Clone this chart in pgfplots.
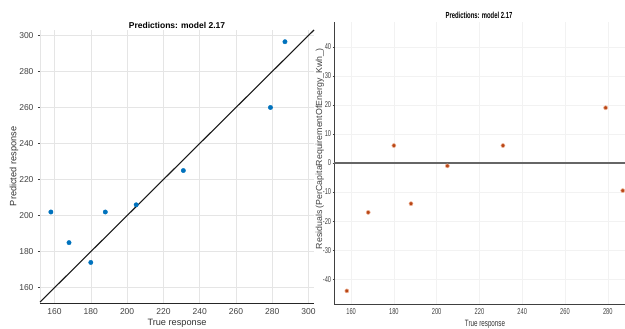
\documentclass[border=0pt]{standalone}
\usepackage{pgfplots}
\pgfplotsset{compat=1.18}
\usepackage{fontspec}
\setmainfont{Liberation Sans}

\definecolor{mblue}{rgb}{0,0.447,0.741}
\definecolor{morange}{rgb}{0.85,0.325,0.098}
\definecolor{tickgray}{gray}{0.25}
\definecolor{gridgray}{gray}{0.90}

% True response / predicted response
\pgfplotstableread{
true pred
158 202
168 185
180 174
188 202
205 206
231 225
279 260
287 296.5
}\predtable

% True response / residual (true - predicted)
\pgfplotstableread{
true res
158 -44
168 -17
180 6
188 -14
205 -1
231 6
279 19
287 -9.5
}\restable

\begin{document}
\begin{tikzpicture}[x=1pt,y=1pt]
\path[use as bounding box] (0,0) rectangle (625,329);
\clip (0,0) rectangle (625,329);
\pgfplotsset{every axis title shift=0pt}

% ---------- predicted vs. true ----------
\begin{axis}[
  at={(40pt,26pt)}, anchor=south west,
  scale only axis, width=274pt, height=273pt,
  xmin=152, xmax=303, ymin=151.5, ymax=303,
  xtick={160,180,...,300}, ytick={160,180,...,300},
  axis x line*=bottom, axis y line*=left,
  x axis line style={draw=black!85, line width=0.8pt, -},
  y axis line style={draw=gridgray, -},
  grid=major, major grid style={draw=gridgray, line width=0.4pt},
  tick style={draw=tickgray, line width=0.4pt},
  major tick length=2pt, tick align=outside,
  xtick style={draw=none},
  ticklabel style={font=\fontsize{8.5}{9}\selectfont, text=tickgray},
  yticklabel style={xshift=-1pt},
  /pgf/number format/assume math mode=true,
  xlabel={True response}, ylabel={Predicted response},
  label style={font=\fontsize{9.2}{10}\selectfont, text=black!80},
  xlabel style={at={(axis description cs:0.5,0)}, anchor=north, yshift=-13pt},
  ylabel style={at={(axis description cs:0,0.5)}, anchor=center, yshift=26pt},
  title={Predictions: model 2.17},
  title style={font=\fontsize{8.5}{9}\selectfont\bfseries, at={(0.5,1)}, anchor=south,
    inner sep=1pt, yshift=0pt},
  clip=false,
]
\addplot[black!90, line width=1.1pt] coordinates {(152,152) (303,303)};
\addplot[only marks, mark=*, mark size=2.2pt, mblue, mark options={draw=mblue, fill=mblue}]
  table[x=true, y=pred] {\predtable};
\end{axis}

% ---------- residuals ----------
\begin{axis}[
  at={(334pt,25pt)}, anchor=south west,
  scale only axis, width=302pt, height=282pt,
  xmin=152, xmax=293.2, ymin=-48.5, ymax=48.5,
  xtick={160,180,...,300}, ytick={-40,-30,...,40},
  axis x line*=bottom, axis y line*=left,
  axis line style={draw=black!75, line width=0.7pt, -},
  grid=major, major grid style={draw=gray!10, line width=0.4pt},
  tick style={draw=tickgray, line width=0.4pt},
  major tick length=1.5pt, tick align=outside,
  xtick style={draw=none},
  ticklabel style={font=\fontsize{8.5}{9}\selectfont, text=tickgray, xscale=0.67},
  yticklabel style={xshift=1.5pt},
  /pgf/number format/assume math mode=true,
  xlabel={True response},
  xlabel style={font=\fontsize{9.2}{10}\selectfont, text=black!80, xscale=0.68,
    at={(axis description cs:0.5,0)}, anchor=north, yshift=-13pt},
  ylabel={Residuals (PerCapitaRequirementOfEnergy\_Kwh\_)},
  ylabel style={font=\fontsize{8.8}{10}\selectfont, text=black!75,
    at={(axis description cs:-0.047,0.55)}, anchor=center},
  title={Predictions: model 2.17},
  title style={font=\fontsize{8.8}{9}\selectfont\bfseries, xscale=0.67,
    at={(0.5,1)}, anchor=south, inner sep=1pt, yshift=2pt, xshift=-9pt},
  clip=false,
]
\addplot[black!60, line width=1.6pt] coordinates {(152,0) (310,0)};
\addplot[only marks, mark=*, mark size=2.0pt, morange,
  mark options={draw=morange!45, fill=morange!85!black, line width=0.6pt}]
  table[x=true, y=res] {\restable};
\end{axis}
\end{tikzpicture}
\end{document}
